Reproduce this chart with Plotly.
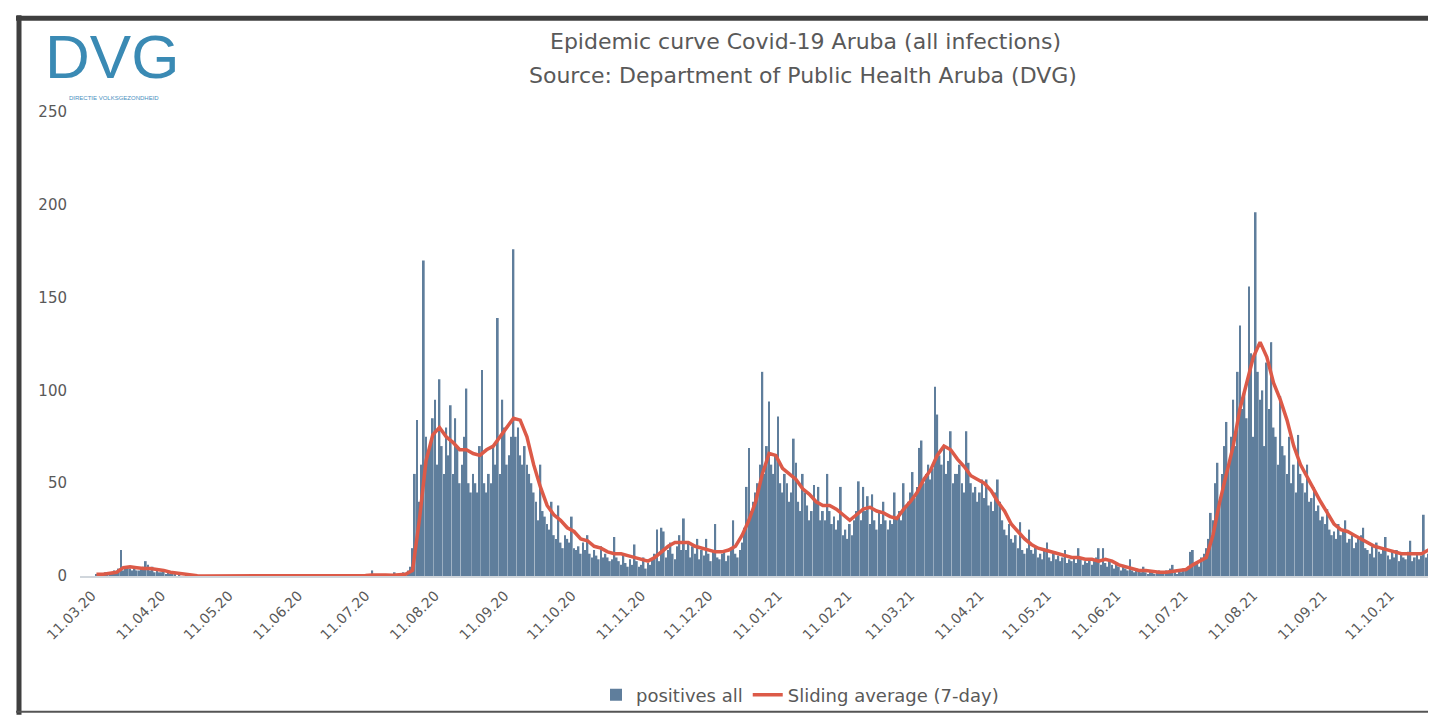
import pandas as pd
import plotly.graph_objects as go

# ---------------- data (daily positives) ----------------
mar20 = [1, 0, 1, 0, 2, 1, 2, 1, 3, 2, 4, 14, 3, 4, 5, 4, 3, 4, 3]          # from 13 Mar 2020
apr20 = [3, 4, 5, 8, 6, 3, 5, 2, 3, 2, 2, 3, 1, 2, 1, 1, 2, 0, 1, 0,
         0, 1, 0, 0, 0, 0, 0, 0, 0, 0]
may20 = [0, 0, 0, 0, 0, 0, 0, 0, 0, 0, 0, 0, 0, 0, 0, 0, 0, 0, 0, 0,
         0, 0, 0, 0, 0, 0, 0, 0, 0, 0, 0]
jun20 = [0, 0, 0, 0, 0, 0, 0, 0, 0, 0, 0, 0, 0, 0, 0, 0, 0, 0, 0, 0,
         0, 0, 0, 0, 1, 0, 1, 0, 0, 0]
jul20 = [0, 0, 0, 0, 0, 0, 0, 1, 0, 0, 0, 0, 0, 3, 1, 0, 0, 0, 1, 0,
         0, 0, 0, 2, 0, 1, 0, 2, 1, 3, 5]
aug20 = [15, 55, 84, 40, 60, 170, 75, 65, 70, 85, 95, 60, 106, 70, 55, 80, 65, 92, 55, 85,
         70, 50, 60, 75, 101, 50, 45, 55, 50, 45, 70]
sep20 = [111, 50, 45, 55, 50, 70, 60, 139, 55, 95, 80, 60, 65, 75, 176, 75, 80, 65, 60, 70,
         60, 55, 50, 45, 40, 30, 60, 35, 32, 28]
oct20 = [25, 40, 22, 20, 38, 18, 15, 22, 20, 18, 32, 15, 14, 16, 12, 18, 14, 22, 12, 10,
         14, 11, 9, 16, 10, 12, 10, 8, 9, 21, 10]
nov20 = [8, 6, 12, 7, 5, 9, 6, 17, 8, 5, 6, 10, 4, 7, 6, 9, 12, 25, 8, 26,
         24, 10, 14, 18, 12, 9, 16, 22, 14, 31]
dec20 = [14, 18, 10, 16, 12, 20, 9, 14, 11, 20, 12, 8, 14, 28, 10, 9, 12, 14, 8, 11,
         15, 30, 12, 10, 14, 18, 26, 48, 69, 35, 40]
jan21 = [45, 50, 60, 110, 55, 70, 94, 60, 55, 65, 86, 50, 45, 55, 50, 40, 45, 74, 61, 40,
         35, 55, 45, 38, 30, 35, 49, 40, 48, 30, 35]
feb21 = [30, 55, 35, 28, 32, 25, 30, 48, 22, 25, 20, 28, 22, 30, 35, 51, 30, 48, 35, 43,
         28, 44, 30, 25, 35, 28, 40, 30]
mar21 = [25, 30, 28, 45, 32, 35, 30, 50, 38, 40, 45, 56, 42, 48, 69, 73, 50, 55, 60, 52,
         58, 102, 87, 65, 60, 70, 55, 62, 78, 50, 55]
apr21 = [55, 60, 50, 45, 78, 61, 50, 45, 48, 40, 45, 52, 42, 52, 38, 40, 35, 45, 52, 40,
         30, 25, 22, 28, 20, 18, 22, 15, 29, 14]
may21 = [12, 15, 25, 14, 12, 16, 10, 12, 9, 14, 18, 10, 8, 12, 9, 11, 8, 10, 14, 7,
         9, 8, 10, 7, 15, 9, 6, 8, 7, 9, 6]
jun21 = [8, 10, 15, 6, 15, 7, 5, 8, 6, 4, 7, 5, 3, 6, 4, 3, 9, 3, 2, 4,
         3, 2, 5, 2, 1, 3, 2, 1, 2, 3]
jul21 = [2, 1, 3, 2, 4, 6, 2, 1, 3, 2, 4, 3, 5, 13, 14, 6, 8, 5, 10, 12,
         15, 20, 34, 30, 50, 61, 40, 55, 70, 83, 60]
aug21 = [75, 95, 70, 110, 135, 90, 100, 85, 156, 120, 75, 196, 110, 95, 100, 70, 115, 90, 126, 80,
         75, 60, 97, 70, 65, 55, 75, 50, 60, 45, 76]
sep21 = [55, 50, 45, 60, 40, 42, 48, 35, 38, 30, 32, 28, 36, 25, 22, 24, 20, 28, 22, 25,
         30, 18, 20, 22, 15, 18, 20, 22, 26, 15]
oct21 = [14, 12, 16, 10, 18, 13, 12, 15, 21, 11, 9, 13, 10, 14, 8, 12, 10, 9, 13, 19,
         8, 10, 12, 9, 11, 33, 10, 12, 17, 14, 18]

month_starts = ["2020-03-13", "2020-04-01", "2020-05-01", "2020-06-01", "2020-07-01",
                "2020-08-01", "2020-09-01", "2020-10-01", "2020-11-01", "2020-12-01",
                "2021-01-01", "2021-02-01", "2021-03-01", "2021-04-01", "2021-05-01",
                "2021-06-01", "2021-07-01", "2021-08-01", "2021-09-01", "2021-10-01"]
month_values = [mar20, apr20, may20, jun20, jul20, aug20, sep20, oct20, nov20, dec20,
                jan21, feb21, mar21, apr21, may21, jun21, jul21, aug21, sep21, oct21]

# 7-day sliding average, every 3 days from 13 Mar 2020
avg_start = "2020-03-13"
avg_values = [1, 1, 1.5, 2, 4.5, 5, 4.5, 4, 4, 3.5, 3, 2, 1.5, 1, 0.5, 0.2,
              0, 0, 0, 0, 0, 0, 0, 0, 0, 0, 0, 0, 0, 0, 0, 0, 0, 0, 0,
              0.3, 0.3, 0.2, 0.1, 0.3, 0.3, 0.6, 0.8, 0.6, 0.4, 0.7, 1,
              3, 30, 62, 76, 80, 75, 72, 68, 68, 66, 65, 68, 70, 75, 80, 85, 84, 75, 60, 48, 38,
              33, 30, 26, 24, 20, 19, 16, 15, 13, 12, 12, 11, 10, 9, 8, 10, 13, 16, 18, 18,
              18, 16, 15, 14, 13, 13, 14, 16, 22, 30, 40, 55, 66, 65, 58, 55, 52, 47, 44, 40,
              38, 38, 36, 33, 30, 33, 36, 37, 35, 34, 32, 31, 36, 40, 45, 52, 57, 65, 70, 68,
              63, 59, 54, 52, 50, 46, 40, 35, 28, 24, 20, 17, 15, 14, 13, 12, 11, 10, 10, 9,
              9, 8, 9, 8, 6, 5, 4, 3, 3, 2.5, 2, 2, 2.5, 3, 3.5, 6, 8, 10, 22, 40, 55, 70,
              90, 105, 118, 126, 118, 104, 95, 84, 70, 60, 53, 46, 40, 34, 28, 25, 24, 22, 20,
              18, 16, 15, 14, 13, 12, 12, 12, 12, 14, 15]

y_ticks = [0, 50, 100, 150, 200, 250]
x_tick_dates = ["2020-03-11", "2020-04-11", "2020-05-11", "2020-06-11", "2020-07-11",
                "2020-08-11", "2020-09-11", "2020-10-11", "2020-11-11", "2020-12-11",
                "2021-01-11", "2021-02-11", "2021-03-11", "2021-04-11", "2021-05-11",
                "2021-06-11", "2021-07-11", "2021-08-11", "2021-09-11", "2021-10-11",
                "2021-11-11"]

title_1 = "Epidemic curve Covid-19 Aruba (all infections)"
title_2 = "Source: Department of Public Health Aruba (DVG)"

# ---------------- build ----------------
bar_x, bar_y = [], []
for start, vals in zip(month_starts, month_values):
    bar_x += list(pd.date_range(start, periods=len(vals), freq="D"))
    bar_y += vals
avg_x = list(pd.date_range(avg_start, periods=len(avg_values), freq="3D"))

# the page body adds an 8px margin, so the figure is drawn from (8, 8)
OFF = 8
W, H = 1436 - OFF, 716 - OFF
ML, MR, MT, MB = 72, 4, 104, 139
PW, PH = W - ML - MR, H - MT - MB


def px(xp):  # page pixel -> paper x
    return (xp - OFF - ML) / PW


def py(yp):  # page pixel -> paper y
    return (H - MB - (yp - OFF)) / PH


GREY = "#595959"
FONT = "DejaVu Sans"

fig = go.Figure()
fig.add_trace(go.Bar(x=bar_x, y=bar_y, name="positives all",
                     marker=dict(color="#5f7e9c", line=dict(width=0))))
fig.add_trace(go.Scatter(x=avg_x, y=avg_values, name="Sliding average (7-day)",
                         mode="lines", line=dict(color="#dc5a48", width=3.5)))

fig.update_layout(
    width=W, height=H,
    margin=dict(l=ML, r=MR, t=MT, b=MB),
    paper_bgcolor="white", plot_bgcolor="white",
    bargap=0.2,
    showlegend=True,
    legend=dict(orientation="h", x=px(800), xanchor="center", y=py(695), yanchor="middle",
                font=dict(family=FONT, size=18, color=GREY), itemwidth=30,
                bgcolor="rgba(0,0,0,0)"),
    font=dict(family=FONT, color=GREY),
)
fig.update_xaxes(
    type="date",
    range=["2020-03-05 16:00", "2021-10-29 16:00"],
    tickmode="array", tickvals=x_tick_dates, tickformat="%d.%m.%y",
    tickangle=-45, tickfont=dict(family=FONT, size=14, color=GREY),
    showgrid=False, zeroline=False,
    showline=True, linecolor="#d0d6dc", linewidth=2,
    ticks="", ticklabelstandoff=4,
)
fig.update_yaxes(
    range=[0, 250], tickvals=y_ticks,
    tickfont=dict(family=FONT, size=15, color=GREY),
    showgrid=False, zeroline=False, showline=False,
    ticks="", ticklabelstandoff=12,
)

annotations = [
    dict(text=title_1, x=px(805), y=py(41), xref="paper", yref="paper",
         xanchor="center", yanchor="middle", showarrow=False,
         font=dict(family=FONT, size=22, color=GREY)),
    dict(text=title_2, x=px(803), y=py(75), xref="paper", yref="paper",
         xanchor="center", yanchor="middle", showarrow=False,
         font=dict(family=FONT, size=22, color=GREY)),
    dict(text="DVG", x=px(112), y=py(56), xref="paper", yref="paper",
         xanchor="center", yanchor="middle", showarrow=False,
         font=dict(family="Liberation Sans", size=62, color="#3a8ab4")),
    dict(text="DIRECTIE VOLKSGEZONDHEID", x=px(114), y=py(98), xref="paper", yref="paper",
         xanchor="center", yanchor="middle", showarrow=False,
         font=dict(family="Liberation Sans", size=6, color="#4a8fc0")),
]
fig.update_layout(annotations=annotations)

frame = "#3f3f3f"
shapes = [
    dict(type="line", xref="paper", yref="paper", x0=px(16), x1=px(1436), y0=py(18), y1=py(18),
         line=dict(color=frame, width=5)),
    dict(type="line", xref="paper", yref="paper", x0=px(19), x1=px(19), y0=py(15), y1=py(716),
         line=dict(color=frame, width=5)),
    dict(type="line", xref="paper", yref="paper", x0=px(16), x1=px(1436), y0=py(713), y1=py(713),
         line=dict(color="#555555", width=2)),
    dict(type="line", xref="paper", yref="paper", x0=px(1434), x1=px(1434), y0=py(15), y1=py(716),
         line=dict(color="#555555", width=2)),
]
fig.update_layout(shapes=shapes)

fig.write_html("out.html")
